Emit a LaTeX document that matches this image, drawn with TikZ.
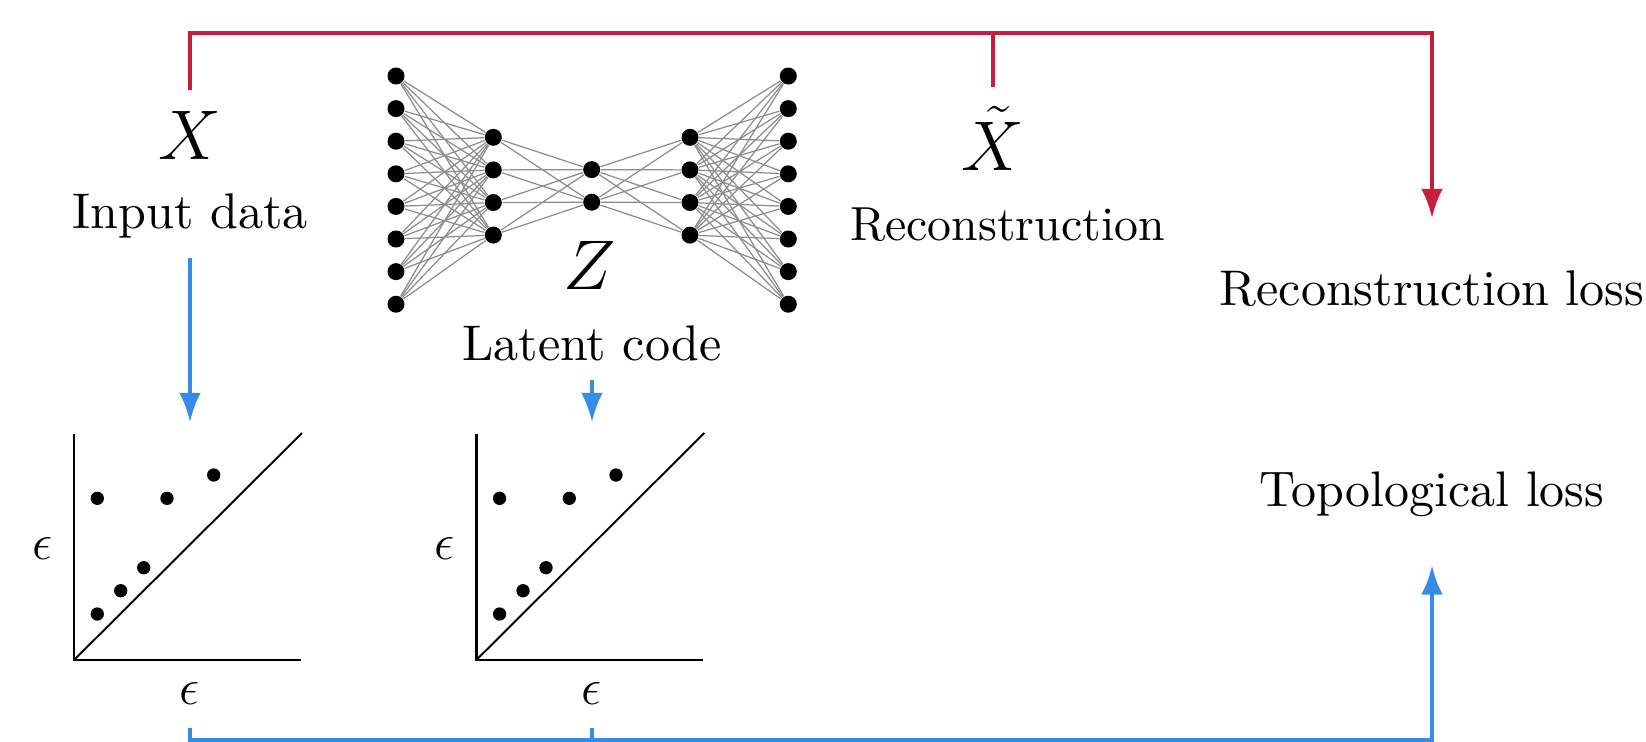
\documentclass[tikz,border=0pt]{standalone}
\usepackage{fix-cm}
\usepackage{fontspec}
\setmainfont{lmroman10-regular.otf}
\usetikzlibrary{arrows.meta,calc}
\definecolor{lossred}{RGB}{200,30,62}
\definecolor{lossblue}{RGB}{52,140,230}
\begin{document}
\begin{tikzpicture}[x=0.01cm,y=-0.01cm,
  lbl/.style={anchor=base,inner sep=0pt,font=\fontsize{14.25}{17}\selectfont},
  biglbl/.style={anchor=base,inner sep=0pt,font=\fontsize{20}{24}\selectfont},
  epslbl/.style={inner sep=0pt,font=\fontsize{14.5}{17}\selectfont},
  neuron/.style={circle,fill=black,inner sep=0pt,minimum size=0.17cm},
  pdot/.style={circle,fill=black,inner sep=0pt,minimum size=0.133cm},
  edgeline/.style={draw=black!45,line width=0.35pt},
  axisline/.style={line width=0.75pt},
  diagline/.style={line width=0.55pt},
  redline/.style={draw=lossred,line width=1.1pt},
  blueline/.style={draw=lossblue,line width=1.1pt},
  tipped/.style={-{Latex[length=8.3pt,width=6.2pt]}}
]
\useasboundingbox (0,0) rectangle (1646,741);

% text labels
\node[biglbl] (X) at (190,159) {$X$};
\node[lbl] (Xin) at (190,228) {Input data};
\node[biglbl] (Xt) at (993,170.7) {$\tilde{X}$};
\node[lbl,font=\fontsize{13.6}{16}\selectfont] (rec) at (1007.5,240) {Reconstruction};
\node[biglbl] (Z) at (590,289) {$Z$};
\node[lbl] (lat) at (592,360) {Latent code};
\node[lbl] (RL) at (1432,305) {Reconstruction loss};
\node[lbl,font=\fontsize{14.2}{17}\selectfont] (TL) at (1432,506) {Topological loss};

% network
\foreach \i in {1,...,8} {\node[neuron] (a\i) at (396,{76+32.6*(\i-1)}) {};}
\foreach \i in {1,...,4} {\node[neuron] (b\i) at (493.3,{137.3+32.6*(\i-1)}) {};}
\foreach \i in {1,2} {\node[neuron] (c\i) at (591.7,{169.6+32.6*(\i-1)}) {};}
\foreach \i in {1,...,4} {\node[neuron] (d\i) at (690,{137.3+32.6*(\i-1)}) {};}
\foreach \i in {1,...,8} {\node[neuron] (e\i) at (788.3,{76+32.6*(\i-1)}) {};}
\foreach \i in {1,...,8} {\foreach \j in {1,...,4} {\draw[edgeline] (a\i) -- (b\j); \draw[edgeline] (d\j) -- (e\i);}}
\foreach \i in {1,...,4} {\foreach \j in {1,2} {\draw[edgeline] (b\i) -- (c\j); \draw[edgeline] (c\j) -- (d\i);}}

% persistence diagrams
\foreach \o/\n in {0/1,402.3/2} {
  \draw[axisline] (74+\o,434) -- (74+\o,660) -- (301+\o,660);
  \draw[diagline] (74+\o,660) -- (302+\o,433);
  \foreach \px/\py [count=\k] in {23.3/-161.7, 93/-161.7, 139.7/-185, 23.3/-46, 46.7/-69.3, 69.7/-92.3}
    {\node[pdot] (pd\n-\k) at (74+\o+\px,660+\py) {};}
  \node[epslbl] (epsl\n) at (42.7+\o,548) {$\epsilon$};
}
\node[epslbl] (epsb1) at (190,693) {$\epsilon$};
\node[epslbl] (epsb2) at (592,693) {$\epsilon$};

% connectors
\coordinate (topR) at (1432,33);
\coordinate (botR) at (1432,740);
\coordinate (p1top) at (190,422);
\coordinate (p2top) at (592,422);

\draw[redline,tipped] ([yshift=5.7pt]X.north) |- (topR) -- ([yshift=14.65pt]RL.north);
\draw[redline] ([yshift=5.3pt]Xt.north) -- (Xt.north |- topR);

\draw[blueline,tipped] ([yshift=-5.5pt]Xin.south) -- (p1top);
\draw[blueline,tipped] ([yshift=-5.4pt]lat.south) -- (p2top);
\draw[blueline,tipped] ([yshift=-6.6pt]epsb1.south) |- (botR) -- ([yshift=-13.8pt]TL.south);
\draw[blueline] ([yshift=-6.6pt]epsb2.south) -- (epsb2.south |- botR);
\end{tikzpicture}
\end{document}
